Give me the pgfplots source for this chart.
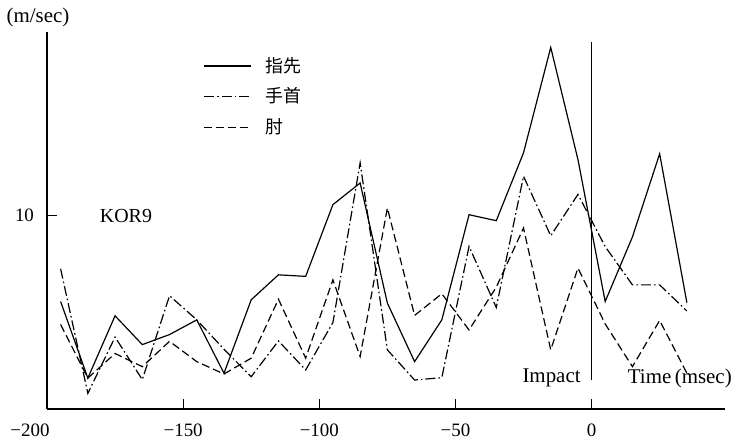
\documentclass[border=0pt]{standalone}
\usepackage{pgfplots}
\pgfplotsset{compat=1.18}
\usepackage{fontspec}
\setmainfont{Liberation Serif}
\newfontfamily\cjk{Noto Sans CJK JP}
\begin{document}
\begin{tikzpicture}
\begin{axis}[
  scale only axis, width=339bp, height=188.5bp,
  xmin=-200, xmax=49, ymin=0, ymax=19.5,
  axis x line=bottom, axis y line=left,
  axis line style={-, line width=0.6pt},
  xtick={-150,-100,-50,0}, xticklabels={−150,−100,−50,0},
  extra x ticks={-200}, extra x tick labels={−200},
  extra x tick style={major tick length=0pt, xticklabel style={xshift=-8.5bp}},
  ytick={10}, yticklabels={10},
  tick align=inside, major tick length=5bp,
  tick style={line width=0.5pt, black},
  xticklabel style={yshift=-4bp},
  yticklabel style={xshift=-3bp},
  tick label style={font=\fontsize{9.5}{10}\selectfont},
  legend style={draw=none, fill=none, at={(0.23,0.94)}, anchor=north west,
    font=\cjk\fontsize{9}{9}\selectfont, row sep=4.3bp, column sep=6bp, inner sep=0pt,
    nodes={inner sep=1bp}},
  legend cell align=left,
  legend image code/.code={\draw[#1] (0bp,0bp) -- (23.5bp,0bp);},
  clip=false,
]
\addplot[black, line width=0.6pt] coordinates {
(-195,5.56) (-185,1.6) (-175,4.82) (-165,3.33) (-155,3.85) (-145,4.61)
(-135,1.85) (-125,5.65) (-115,6.94) (-105,6.86) (-95,10.57) (-85,11.69)
(-75,5.48) (-65,2.45) (-55,4.61) (-45,10.05) (-35,9.74) (-25,13.25)
(-15,18.7) (-5,12.9) (5,5.56) (15,8.9) (25,13.2) (35,5.5)};
\addlegendentry{指先}
\addplot[black, line width=0.6pt, dash pattern=on 5bp off 1.5bp on 0.8bp off 1.5bp] coordinates {
(-195,7.25) (-185,0.81) (-175,3.72) (-165,1.52) (-155,5.86) (-145,4.61)
(-135,3.09) (-125,1.67) (-115,3.52) (-105,2.02) (-95,4.47) (-85,12.73)
(-75,3.06) (-65,1.5) (-55,1.62) (-45,8.41) (-35,5.25) (-25,12.04)
(-15,8.96) (-5,11.1) (5,8.4) (15,6.42) (25,6.42) (35,5.07)};
\addlegendentry{手首}
\addplot[black, line width=0.6pt, dash pattern=on 4bp off 2bp] coordinates {
(-195,4.37) (-185,1.6) (-175,2.87) (-165,2.19) (-155,3.5) (-145,2.45)
(-135,1.81) (-125,2.63) (-115,5.68) (-105,2.63) (-95,6.68) (-85,2.71)
(-75,10.4) (-65,4.84) (-55,5.96) (-45,4.09) (-35,6.3) (-25,9.36)
(-15,3.06) (-5,7.29) (5,4.4) (15,2.19) (25,4.58) (35,1.85)};
\addlegendentry{肘}
\addplot[black, line width=0.5pt, forget plot] coordinates {(0,1.5) (0,18.96)};
\node[font=\fontsize{10.5}{11}\selectfont] at (rel axis cs:0,1) [xshift=-4.5bp, yshift=7.5bp] {(m/sec)};
\node[font=\fontsize{10}{11}\selectfont] at (axis cs:-171,10) {KOR9};
\node[font=\fontsize{10.5}{11}\selectfont] at (axis cs:-14.7,1.6) {Impact};
\node[font=\fontsize{10.5}{11}\selectfont] at (axis cs:32.4,1.6) {Time\,(msec)};
\coordinate (bl) at (rel axis cs:0,0);
\coordinate (tr) at (rel axis cs:1,1);
\end{axis}
\pgfresetboundingbox
\useasboundingbox ([xshift=-23.5bp,yshift=-17.5bp]bl) rectangle ([xshift=3bp,yshift=16bp]tr);
\end{tikzpicture}
\end{document}
